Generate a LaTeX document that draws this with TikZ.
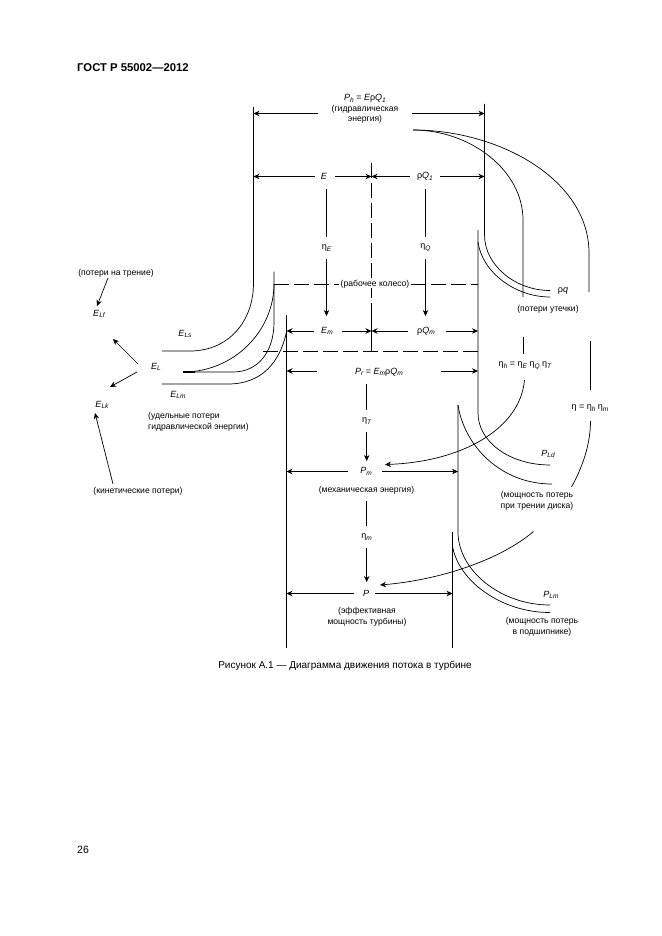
\documentclass[tikz,border=0pt]{standalone}
\usepackage{fontspec}
\setmainfont{Liberation Sans}
\usetikzlibrary{arrows.meta,positioning}
\newcommand{\sufixo}[1]{\raisebox{-.35ex}{\fontsize{6.6}{6.6}\selectfont\itshape #1}}
\newcommand{\varI}[1]{\textit{#1}}
\begin{document}
\begin{tikzpicture}[
  x=1pt, y=-1pt,
  linha/.style={line width=0.7pt, color=black},
  tracej/.style={linha, dash pattern=on 15pt off 5pt},
  seta/.style={linha, -{Stealth[length=6pt,width=5.5pt]}},
  rotulo/.style={font=\fontsize{8.6}{10.6}\selectfont, inner sep=0pt, align=center},
  simbolo/.style={font=\fontsize{9}{10}\selectfont, inner sep=0pt},
  etaroto/.style={simbolo, inner ysep=7pt}
]
  \useasboundingbox (0,0) rectangle (661,936);
  % titulo e legenda
  \node[anchor=west, inner sep=0pt, font=\fontsize{11.3}{13}\selectfont\bfseries] (titulo) at (77,67.5) {ГОСТ Р 55002—2012};
  \node[inner sep=0pt, font=\fontsize{10}{12}\selectfont] (legenda) at (345,666) {Рисунок А.1 — Диаграмма движения потока в турбине};
  \node[anchor=west, inner sep=0pt, font=\fontsize{10.5}{12}\selectfont] (pagina) at (77,850) {26};

  % rotulos
  \node[rotulo] (ph) at (365,108) {\raisebox{0pt}[8pt]{\fontsize{9}{10}\selectfont\varI{P}\sufixo{h} = \varI{E}ρ\varI{Q}\sufixo{1}}\\(гидравлическая\\энергия)};
  \node[simbolo] (e) at (324,176.5) {\varI{E}};
  \node[simbolo] (rq1) at (425,176.5) {ρ\varI{Q}\sufixo{1}};
  \node[etaroto] (etaE) at (326.5,248) {η\sufixo{E}};
  \node[etaroto] (etaQ) at (425.5,248) {η\sufixo{Q}};
  \node[simbolo] (em) at (327,331) {\varI{E}\sufixo{m}};
  \node[simbolo] (rqm) at (426,331) {ρ\varI{Q}\sufixo{m}};
  \node[simbolo] (pr) at (379,372) {\varI{P}\sufixo{r} = \varI{E}\sufixo{m}ρ\varI{Q}\sufixo{m}};
  \node[etaroto] (etaT) at (366.7,421) {η\sufixo{T}};
  \node[simbolo] (pm) at (366,471.5) {\varI{P}\sufixo{m}};
  \node[rotulo] (mec) at (366.5,490) {(механическая энергия)};
  \node[etaroto] (etaM) at (366.7,537) {η\sufixo{m}};
  \node[simbolo] (p) at (366,593.5) {\varI{P}};
  \node[rotulo] (efet) at (367,617) {(эффективная\\мощность турбины)};
  \node[simbolo] (rq) at (563,291) {ρ\varI{q}};
  \node[rotulo] (fuga) at (548,309) {(потери утечки)};
  \node[simbolo] (etaH) at (525,366) {η\sufixo{h} = η\sufixo{E} η\sufixo{Q} η\sufixo{T}};
  \node[simbolo] (eta) at (590,408) {η = η\sufixo{h} η\sufixo{m}};
  \node[simbolo] (pld) at (548,454) {\varI{P}\sufixo{Ld}};
  \node[rotulo] (disco) at (537,500.5) {(мощность потерь\\при трении диска)};
  \node[simbolo] (plm) at (551,595) {\varI{P}\sufixo{Lm}};
  \node[rotulo] (mancal) at (542,626.5) {(мощность потерь\\в подшипнике)};
  \node[rotulo] (atrito) at (116,273) {(потери на трение)};
  \node[simbolo] (elf) at (99,314) {\varI{E}\sufixo{Lf}};
  \node[simbolo] (els) at (185,334) {\varI{E}\sufixo{Ls}};
  \node[simbolo] (el) at (156,367) {\varI{E}\sufixo{L}};
  \node[simbolo] (elm) at (178,395) {\varI{E}\sufixo{Lm}};
  \node[simbolo] (elk) at (102,405) {\varI{E}\sufixo{Lk}};
  \node[rotulo, align=left, anchor=west] (hidr) at (148,421.5) {(удельные потери\\гидравлической энергии)};
  \node[rotulo] (cin) at (138,491) {(кинетические потери)};

  % linhas verticais
  \draw[linha] (253.5,107) -- (253.5,283) .. controls (253.5,322) and (228,351) .. (190,351) -- (162,351);
  \draw[linha] (274,271.5) -- (274,322) .. controls (274,352) and (258,372) .. (233,372) -- (183,372);
  \draw[linha] (274,284) .. controls (274,330) and (235,372) .. (183,372);
  \draw[line width=1.2pt] (183,372) -- (195,372);
  \draw[linha] (286.5,332) .. controls (280,362) and (262,384) .. (228,384) -- (162,384);
  \draw[linha] (286.5,315) -- (286.5,648);
  \draw[linha] (484.5,104) -- (484.5,235) .. controls (484.5,265) and (515,290.5) .. (550,290.5);
  \draw[linha] (478,230) -- (478,413) .. controls (478,442) and (510,465) .. (550,465);
  \draw[linha] (478,242) .. controls (482,272) and (515,297) .. (550,297);
  \draw[linha] (458,405) -- (458,532) .. controls (458,570) and (500,605) .. (550,605);
  \draw[linha] (458,405) .. controls (464,445) and (500,484) .. (552,484);
  \draw[linha] (452.5,532) -- (452.5,648);
  \draw[linha] (452.5,546) .. controls (458,580) and (500,612.5) .. (550,612.5);

  % curvas grandes
  \draw[linha] (413,130) .. controls (470,130) and (523,170) .. (523,220) -- (523,297);
  \draw[linha] (413,130) .. controls (500,130) and (589,180) .. (589,253) -- (589,292);
  \draw[linha] (590,341) -- (590,390);
  \draw[linha] (590.5,421) .. controls (590.5,445) and (582,468) .. (571.5,487);
  \draw[linha] (523,337) -- (523,354);

  % tracejadas
  \draw[tracej] (371.5,163) -- (371.5,316);
  \draw[linha] (371.5,316) -- (371.5,351);
  \node[rotulo, fill=white, inner xsep=1pt] (rotor) at (375,284) {(рабочее колесо)};
  \draw[tracej] (274,284) -- (rotor);
  \draw[tracej] (rotor) -- (478,284);
  \draw[tracej] (263,351) -- (478,351);

  % pontos das setas
  \coordinate (topoE) at (253.5,113.5);
  \coordinate (topoD) at (484.5,113.5);
  \coordinate (eE) at (253.5,176.5);
  \coordinate (eM) at (371.5,176.5);
  \coordinate (qD) at (484.5,176.5);
  \coordinate (emE) at (286.5,331);
  \coordinate (emM) at (371.5,331);
  \coordinate (qmD) at (478,331);
  \coordinate (prE) at (286.5,371);
  \coordinate (prD) at (478,371);
  \coordinate (pmE) at (286.5,471.5);
  \coordinate (pmD) at (458,471.5);
  \coordinate (pE) at (286.5,593.5);
  \coordinate (pD) at (452.5,593.5);

  % setas horizontais
  \draw[seta] (318,113.5) -- (topoE);
  \draw[seta] (412,113.5) -- (topoD);
  \draw[seta] ([xshift=-6pt]e.west) -- (eE);
  \draw[seta] ([xshift=8pt]e.east) -- (eM);
  \draw[seta] ([xshift=-7pt]rq1.west) -- (eM);
  \draw[seta] ([xshift=7pt]rq1.east) -- (qD);
  \draw[seta] ([xshift=-7pt]em.west) -- (emE);
  \draw[seta] ([xshift=9pt]em.east) -- (emM);
  \draw[seta] ([xshift=-9pt]rqm.west) -- (emM);
  \draw[seta] ([xshift=11pt]rqm.east) -- (qmD);
  \draw[seta] (317,371) -- (prE);
  \draw[seta] (441,371) -- (prD);
  \draw[seta] (348,471.5) -- (pmE);
  \draw[seta] (382,471.5) -- (pmD);
  \draw[seta] (354,593.5) -- (pE);
  \draw[seta] (375,593.5) -- (pD);

  % setas verticais
  \draw[linha] (326.5,189) -- (etaE);
  \draw[seta] (etaE) -- (326.5,316);
  \draw[linha] (425.5,189) -- (etaQ);
  \draw[seta] (etaQ) -- (425.5,316);
  \draw[linha] (366.7,384) -- (etaT);
  \draw[seta] (etaT) -- (366.7,461);
  \draw[linha] (366.7,501) -- (etaM);
  \draw[seta] (etaM) -- (366.7,582);

  % setas curvas
  \draw[seta] (524.5,380) .. controls (520,430) and (460,462) .. (385,464.5);
  \draw[seta] (533.5,531.5) .. controls (500,560) and (440,580) .. (380,585);

  % perdas
  \draw[seta] (108,278) -- (97,306);
  \draw[seta] (138,364) -- (113,339);
  \draw[seta] (137,372) -- (110,387);
  \draw[seta] (113,484) -- (95,413);
\end{tikzpicture}
\end{document}
